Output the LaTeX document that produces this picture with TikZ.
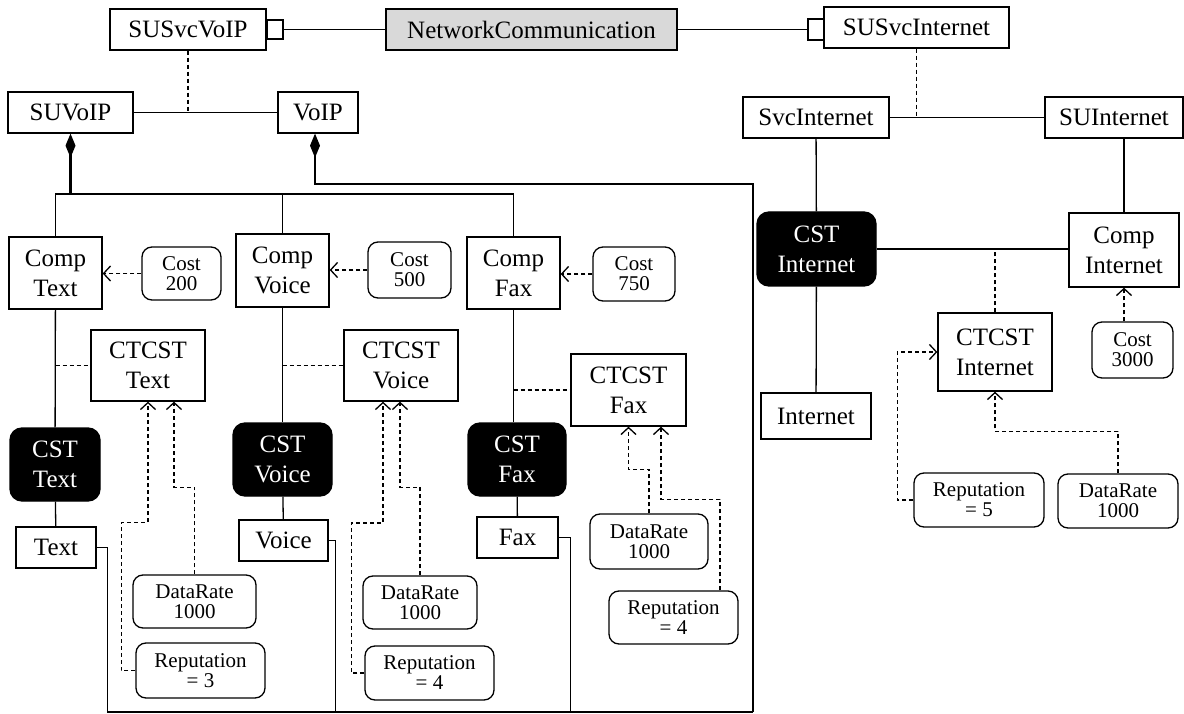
\documentclass[tikz,border=0pt]{standalone}
\usepackage{fontspec}
\setmainfont{Liberation Serif}
\usetikzlibrary{arrows.meta}

\begin{document}
\begin{tikzpicture}[x=1pt,y=-1pt,line width=1.3pt,
    box/.style={draw,rectangle,inner sep=1pt,align=center,font=\fontsize{25}{30}\selectfont},
    cst/.style={box,fill=black,text=white,rounded corners=12pt},
    attr/.style={draw,rounded corners=10pt,inner sep=1pt,align=center,font=\fontsize{21}{20}\selectfont},
    port/.style={draw,rectangle,inner sep=0pt},
    dep/.style={dash pattern=on 4pt off 3pt},
    req/.style={dep,-{Straight Barb[length=7pt,width=15pt]}},
    comp/.style={{Diamond[length=24pt,width=10pt]}-}]
    \useasboundingbox (0,0) rectangle (1184,714);

    % top row
    \node[box,minimum width=156pt,minimum height=41pt] (susvc_voip) at (188,29.5) {SUSvcVoIP};
    \node[port,minimum width=16pt,minimum height=19pt] (voip_port) at (275,29.5) {};
    \node[box,fill=black!15,minimum width=291pt,minimum height=41pt] (netcomm) at (531.5,29.5) {NetworkCommunication};
    \node[port,minimum width=16pt,minimum height=21pt] (inet_port) at (816,29.5) {};
    \node[box,minimum width=185pt,minimum height=41pt] (susvc_inet) at (916.5,27.5) {SUSvcInternet};
    \node[box,minimum width=125pt,minimum height=41pt] (su_voip) at (70.5,112.5) {SUVoIP};
    \node[box,minimum width=80pt,minimum height=41pt] (voip) at (318,112.5) {VoIP};
    \node[box,minimum width=146pt,minimum height=41pt] (svc_inet) at (816,117.5) {SvcInternet};
    \node[box,minimum width=138pt,minimum height=41pt] (su_inet) at (1114,117.5) {SUInternet};

    % text
    \node[box,minimum width=93pt,minimum height=72pt] (comp_text) at (55.5,273) {Comp\\Text};
    \node[attr,minimum width=79pt,minimum height=53pt] (cost_text) at (181.5,273.5) {Cost\\200};
    \node[box,minimum width=114pt,minimum height=71pt] (ctcst_text) at (148,365.5) {CTCST\\Text};
    \node[cst,minimum width=90pt,minimum height=73pt] (cst_text) at (55,464.5) {CST\\Text};
    \node[box,minimum width=80pt,minimum height=41pt] (text) at (56,547.5) {Text};
    \node[attr,minimum width=123pt,minimum height=53pt] (dr_text) at (194.5,601.5) {DataRate\\1000};
    \node[attr,minimum width=129pt,minimum height=55pt] (rep_text) at (200.5,670.5) {Reputation\\= 3};

    % voice
    \node[box,minimum width=93pt,minimum height=73pt] (comp_voice) at (282.5,270.5) {Comp\\Voice};
    \node[attr,minimum width=83pt,minimum height=56pt] (cost_voice) at (409.5,270) {Cost\\500};
    \node[box,minimum width=114pt,minimum height=71pt] (ctcst_voice) at (401,365.5) {CTCST\\Voice};
    \node[cst,minimum width=99pt,minimum height=73pt] (cst_voice) at (282.5,459.5) {CST\\Voice};
    \node[box,minimum width=89pt,minimum height=41pt] (voice) at (283.5,540.5) {Voice};
    \node[attr,minimum width=114pt,minimum height=53pt] (dr_voice) at (420,602.5) {DataRate\\1000};
    \node[attr,minimum width=129pt,minimum height=54pt] (rep_voice) at (429.5,673) {Reputation\\= 4};

    % fax
    \node[box,minimum width=93pt,minimum height=72pt] (comp_fax) at (513.5,273) {Comp\\Fax};
    \node[attr,minimum width=82pt,minimum height=54pt] (cost_fax) at (634,274) {Cost\\750};
    \node[box,minimum width=115pt,minimum height=72pt] (ctcst_fax) at (628.5,390) {CTCST\\Fax};
    \node[cst,minimum width=98pt,minimum height=73pt] (cst_fax) at (517,459.5) {CST\\Fax};
    \node[box,minimum width=81pt,minimum height=41pt] (fax) at (517.5,537.5) {Fax};
    \node[attr,minimum width=118pt,minimum height=55pt] (dr_fax) at (649,541.5) {DataRate\\1000};
    \node[attr,minimum width=129pt,minimum height=53pt] (rep_fax) at (673.5,617.5) {Reputation\\= 4};

    % internet
    \node[cst,minimum width=119pt,minimum height=74pt] (cst_inet) at (816.5,249) {CST\\Internet};
    \node[box,minimum width=110pt,minimum height=74pt] (comp_inet) at (1124,250) {Comp\\Internet};
    \node[box,minimum width=114pt,minimum height=78pt] (ctcst_inet) at (995,352) {CTCST\\Internet};
    \node[attr,minimum width=81pt,minimum height=56pt] (cost_inet) at (1132.5,350) {Cost\\3000};
    \node[box,minimum width=110pt,minimum height=46pt] (internet) at (816,416) {Internet};
    \node[attr,minimum width=130pt,minimum height=54pt] (rep_inet) at (979,500) {Reputation\\= 5};
    \node[attr,minimum width=120pt,minimum height=54pt] (dr_inet) at (1118,501) {DataRate\\1000};

    \coordinate (bus) at (0,194);
    \coordinate (voip_bus) at (753,184);
    \coordinate (base) at (753,712);

    % top connectors
    \draw (voip_port.east) -- (netcomm.west);
    \draw (netcomm.east) -- (inet_port.west);
    \draw[dep] (susvc_voip.south) -- (susvc_voip.south |- su_voip.east);
    \draw (su_voip) -- (voip);
    \draw[dep] (susvc_inet.south) -- (susvc_inet.south |- svc_inet.east);
    \draw (svc_inet) -- (su_inet);

    % composition
    \draw[comp,line width=2.5pt] (su_voip.south) -- (su_voip.south |- bus);
    \draw (comp_text.north) -- (comp_text.north |- bus) -- (comp_fax.north |- bus) -- (comp_fax.north);
    \draw (comp_voice.north) -- (comp_voice.north |- bus);
    \draw[comp] ([xshift=-3pt]voip.south) |- (voip_bus) -- (base);
    \draw (text.east) -- ++(11,0) |- (base);
    \draw (voice.east) -- ++(7,0) |- (base);
    \draw (fax.east) -- ++(12,0) |- (base);

    % text column
    \draw (comp_text) -- (cst_text);
    \draw (cst_text) -- (text);
    \draw[dep] (comp_text.south |- ctcst_text.west) -- (ctcst_text.west);
    \draw[req] (cost_text.west) -- (comp_text.east |- cost_text.west);
    \draw[req] (dr_text.north) -- ++(0,-87) -| ([xshift=26pt]ctcst_text.south);
    \draw[req] (rep_text.west) -- ++(-14,0) -- ++(0,-148) -| (ctcst_text.south);

    % voice column
    \draw (comp_voice) -- (cst_voice);
    \draw (cst_voice) -- (voice);
    \draw[dep] (comp_voice.south |- ctcst_voice.west) -- (ctcst_voice.west);
    \draw[req] (cost_voice.west) -- (comp_voice.east |- cost_voice.west);
    \draw[req] (dr_voice.north) -- ++(0,-88) -| ([xshift=-1pt]ctcst_voice.south);
    \draw[req] (rep_voice.west) -- ++(-13,0) -- ++(0,-150) -| ([xshift=-18pt]ctcst_voice.south);

    % fax column
    \draw (comp_fax.south) -- (comp_fax.south |- cst_fax.north);
    \draw (cst_fax) -- (fax);
    \draw[dep] (comp_fax.south |- ctcst_fax.west) -- (ctcst_fax.west);
    \draw[req] (cost_fax.west) -- (comp_fax.east |- cost_fax.west);
    \draw[req] (dr_fax.north) -- ++(0,-44) -| (ctcst_fax.south);
    \draw[req] ([xshift=46.5pt]rep_fax.north) -- ++(0,-91) -| ([xshift=32.5pt]ctcst_fax.south);

    % internet
    \draw (svc_inet) -- (cst_inet);
    \draw (cst_inet) -- (internet);
    \draw (cst_inet.east) -- (comp_inet.west |- cst_inet.east);
    \draw (comp_inet.north) -- (comp_inet.north |- su_inet.south);
    \draw[dep] (ctcst_inet.north) -- (ctcst_inet.north |- cst_inet.east);
    \draw[req] (cost_inet.north -| comp_inet.south) -- (comp_inet.south);
    \draw[req] (rep_inet.west) -- ++(-16,0) |- (ctcst_inet.west);
    \draw[req] (dr_inet.north) -- ++(0,-42) -| (ctcst_inet.south);
\end{tikzpicture}
\end{document}
